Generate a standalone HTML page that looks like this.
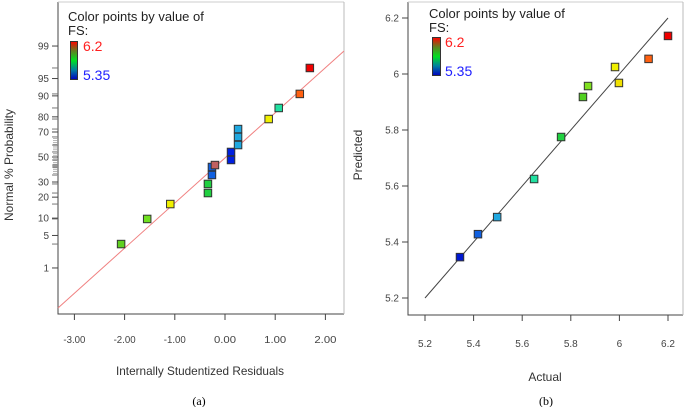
<!DOCTYPE html>
<html><head><meta charset="utf-8">
<style>
body{margin:0;background:#fff;}
svg{display:block;font-family:"Liberation Sans",sans-serif;}
</style></head>
<body>
<svg id="chart" width="685" height="407" viewBox="0 0 685 407" xmlns="http://www.w3.org/2000/svg">
<defs>
<linearGradient id="cb" x1="0" y1="1" x2="0" y2="0">
<stop offset="0" stop-color="#0000c0"/><stop offset="0.25" stop-color="#0080a0"/><stop offset="0.5" stop-color="#00e020"/><stop offset="0.75" stop-color="#608020"/><stop offset="1" stop-color="#ff0000"/>
</linearGradient>
</defs>
</svg>
<script>
// Panel (a): normal probability plot
const residuals = [-2.07,-1.55,-1.09,-0.34,-0.34,-0.26,-0.26,-0.2,0.12,0.12,0.26,0.26,0.26,0.87,1.07,1.49,1.69];
const probabilities = [3.4,9.7,16.2,22.5,28.6,35.3,41.7,43.3,47.5,54.2,59.9,66.3,72.1,78.7,84.8,90.7,96.9];
const colorsA = ['#60d020','#70e020','#f0f000','#20d040','#20d040','#1060e0','#1060e0','#c06060','#0020e0','#0020e0','#20a8e0','#20a8e0','#20a8e0','#f0f000','#20e0a0','#ff6010','#f00000'];
const residTicks = [-3,-2,-1,0,1,2];
const residTickLabels = ['-3.00','-2.00','-1.00','0.00','1.00','2.00'];
const probTicks = [1,5,10,20,30,50,70,80,90,95,99];
// Panel (b): predicted vs actual
const actual = [5.344,5.418,5.497,5.649,5.76,5.85,5.871,5.982,5.998,6.12,6.2];
const predicted = [5.346,5.428,5.489,5.625,5.775,5.918,5.957,6.025,5.968,6.054,6.136];
const colorsB = ['#0018d0','#1060e0','#20a8e0','#20e0a0','#20d040','#50d020','#80e020','#f0f000','#f0e000','#ff6010','#f00000'];
const valTicks = [5.2,5.4,5.6,5.8,6,6.2];
const valTickLabels = ['5.2','5.4','5.6','5.8','6','6.2'];

const svg = document.getElementById('chart');
const NS='http://www.w3.org/2000/svg';
function mk(tag, attrs, parent){const e=document.createElementNS(NS,tag);for(const k in attrs)e.setAttribute(k,attrs[k]);(parent||svg).appendChild(e);return e;}
function txt(s, attrs, parent){const e=mk('text',attrs,parent);e.textContent=s;return e;}
function erfinv(p){
 const a=[-39.6968302866538,220.946098424521,-275.928510446969,138.357751867269,-30.6647980661472,2.50662827745924];
 const b=[-54.4760987982241,161.585836858041,-155.698979859887,66.8013118877197,-13.2806815528857];
 const c=[-0.00778489400243029,-0.322396458041136,-2.40075827716184,-2.54973253934373,4.37466414146497,2.93816398269878];
 const d=[0.00778469570904146,0.32246712907004,2.445134137143,3.75440866190742];
 const pl=0.02425;let q,r;
 if(p<pl){q=Math.sqrt(-2*Math.log(p));return (((((c[0]*q+c[1])*q+c[2])*q+c[3])*q+c[4])*q+c[5])/((((d[0]*q+d[1])*q+d[2])*q+d[3])*q+1);}
 if(p>1-pl){q=Math.sqrt(-2*Math.log(1-p));return -(((((c[0]*q+c[1])*q+c[2])*q+c[3])*q+c[4])*q+c[5])/((((d[0]*q+d[1])*q+d[2])*q+d[3])*q+1);}
 q=p-0.5;r=q*q;return (((((a[0]*r+a[1])*r+a[2])*r+a[3])*r+a[4])*r+a[5])*q/(((((b[0]*r+b[1])*r+b[2])*r+b[3])*r+b[4])*r+1);
}
const xA = v => 225 + v*50.2;
const yA = p => 157 - erfinv(p/100)*47.7;
const xB = v => 425 + (v-5.2)*243;
const yB = v => 298 - (v-5.2)*280;
const MS = 7.5;

// ---- Panel A ----
const gA = mk('g',{});


let f=mk('path',{d:'M58 2 V314 H344',fill:'none',stroke:'#444','stroke-width':1},gA);

mk('line',{x1:58,y1:2,x2:344,y2:2,stroke:'#ccc','stroke-width':1},gA);
mk('line',{x1:344,y1:2,x2:344,y2:314,stroke:'#bbb','stroke-width':1},gA);
const line=mk('line',{x1:58,y1:308,x2:344,y2:51,stroke:'#f08080','stroke-width':1},gA);

for(let i=0;i<residuals.length;i++){const y=yA(probabilities[i]);mk('line',{x1:52,y1:y,x2:58,y2:y,stroke:'#777','stroke-width':1},gA);}
for(let p=35;p<=65;p+=1.5){const y=yA(p);mk('line',{x1:53,y1:y,x2:58,y2:y,stroke:'#999','stroke-width':0.7},gA);}
probTicks.forEach(p=>{const y=yA(p);mk('line',{x1:52,y1:y,x2:58,y2:y,stroke:'#444'},gA);
 const t=txt(String(p),{x:49,y:y+3.5,'font-size':10,fill:'#444','text-anchor':'end'},gA);
 });
residTicks.forEach((v,i)=>{const x=xA(v);mk('line',{x1:x,y1:314,x2:x,y2:320,stroke:'#444'},gA);
 const t=txt(residTickLabels[i],{x:x,y:343,'font-size':10,fill:'#444','text-anchor':'middle',textLength:22,lengthAdjust:'spacingAndGlyphs'},gA);
 });
residuals.forEach((r,i)=>{const x=xA(r),y=yA(probabilities[i]);
 const s=mk('rect',{x:x-MS/2,y:y-MS/2,width:MS,height:MS,fill:colorsA[i],stroke:'#333','stroke-width':1},gA);
 });
let t=txt('Normal % Probability',{x:0,y:0,'font-size':12,fill:'#333','text-anchor':'middle',transform:'translate(13,165) rotate(-90)'},gA);

t=txt('Internally Studentized Residuals',{x:200,y:375,'font-size':12,fill:'#333','text-anchor':'middle',textLength:168,lengthAdjust:'spacingAndGlyphs'},gA);

t=txt('(a)',{x:199,y:405,'font-size':12,fill:'#000','text-anchor':'middle','font-family':'Liberation Serif'},gA);

const lA=mk('g',{},gA);
txt('Color points by value of',{x:68,y:21,'font-size':13,fill:'#222'},lA);
txt('FS:',{x:68,y:35,'font-size':13,fill:'#222'},lA);
mk('rect',{x:70.5,y:41.5,width:7,height:38,fill:'url(#cb)',stroke:'#333'},lA);
txt('6.2',{x:83,y:51,'font-size':14,fill:'#ff2020'},lA);
txt('5.35',{x:83,y:80,'font-size':14,fill:'#2020ff'},lA);

// ---- Panel B ----
const gB = mk('g',{});


f=mk('path',{d:'M408 2 V315 H683',fill:'none',stroke:'#444','stroke-width':1},gB);

mk('line',{x1:408,y1:2,x2:683,y2:2,stroke:'#ccc'},gB);
mk('line',{x1:683,y1:2,x2:683,y2:315,stroke:'#bbb'},gB);
const l2=mk('line',{x1:xB(5.2),y1:yB(5.2),x2:xB(6.2),y2:yB(6.2),stroke:'#444','stroke-width':1},gB);

valTicks.forEach((v,i)=>{const y=yB(v);mk('line',{x1:402,y1:y,x2:408,y2:y,stroke:'#444'},gB);
 let t=txt(valTickLabels[i],{x:399,y:y+3.5,'font-size':10,fill:'#444','text-anchor':'end'},gB);
 
 const x=xB(v);mk('line',{x1:x,y1:315,x2:x,y2:321,stroke:'#444'},gB);
 t=txt(valTickLabels[i],{x:x,y:347,'font-size':10,fill:'#444','text-anchor':'middle'},gB);
 });
actual.forEach((a,i)=>{const x=xB(a),y=yB(predicted[i]);
 const s=mk('rect',{x:x-MS/2,y:y-MS/2,width:MS,height:MS,fill:colorsB[i],stroke:'#333','stroke-width':1},gB);
 });
t=txt('Predicted',{x:0,y:0,'font-size':12,fill:'#333','text-anchor':'middle',transform:'translate(362,155) rotate(-90)'},gB);

t=txt('Actual',{x:545,y:381,'font-size':12,fill:'#333','text-anchor':'middle'},gB);

t=txt('(b)',{x:546,y:405,'font-size':12,fill:'#000','text-anchor':'middle','font-family':'Liberation Serif'},gB);

const lB=mk('g',{},gB);
txt('Color points by value of',{x:429,y:18,'font-size':13,fill:'#222'},lB);
txt('FS:',{x:429,y:32,'font-size':13,fill:'#222'},lB);
mk('rect',{x:432.5,y:37.5,width:8,height:38,fill:'url(#cb)',stroke:'#333'},lB);
txt('6.2',{x:445,y:47,'font-size':14,fill:'#ff2020'},lB);
txt('5.35',{x:445,y:76,'font-size':14,fill:'#2020ff'},lB);
</script>
</body></html>
